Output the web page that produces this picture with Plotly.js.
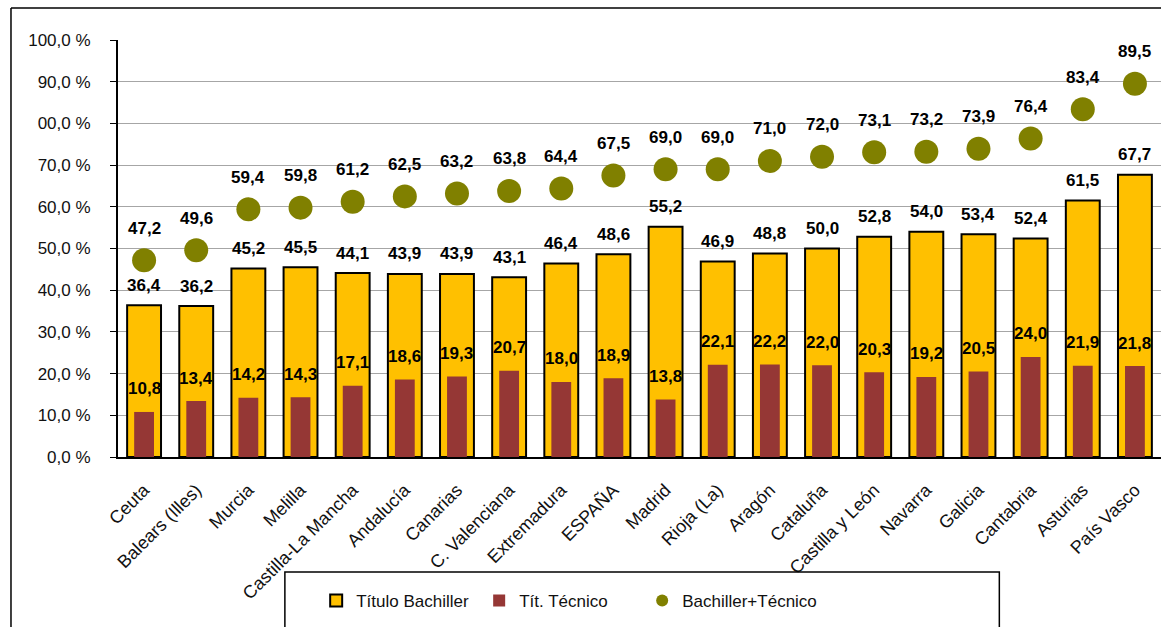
<!DOCTYPE html>
<html>
<head>
<meta charset="utf-8">
<script src="https://cdn.plot.ly/plotly-3.0.1.min.js"></script>
<style>html,body{margin:0;padding:0;background:#fff;}#chart{width:1161px;height:627px;}</style>
</head>
<body>
<div id="chart"></div>
<script>
const categories = ["Ceuta","Balears (Illes)","Murcia","Melilla","Castilla-La Mancha","Andalucía","Canarias","C. Valenciana","Extremadura","ESPAÑA","Madrid","Rioja (La)","Aragón","Cataluña","Castilla y León","Navarra","Galicia","Cantabria","Asturias","País Vasco"];
const tituloBachiller = [36.4,36.2,45.2,45.5,44.1,43.9,43.9,43.1,46.4,48.6,55.2,46.9,48.8,50.0,52.8,54.0,53.4,52.4,61.5,67.7];
const titTecnico = [10.8,13.4,14.2,14.3,17.1,18.6,19.3,20.7,18.0,18.9,13.8,22.1,22.2,22.0,20.3,19.2,20.5,24.0,21.9,21.8];
const bachillerTecnico = [47.2,49.6,59.4,59.8,61.2,62.5,63.2,63.8,64.4,67.5,69.0,69.0,71.0,72.0,73.1,73.2,73.9,76.4,83.4,89.5];
const yTickVals = [0,10,20,30,40,50,60,70,80,90,100];
const yTickText = ["0,0 %","10,0 %","20,0 %","30,0 %","40,0 %","50,0 %","60,0 %","70,0 %","00,0 %","90,0 %","100,0 %"];

const fmt = v => v.toFixed(1).replace('.', ',');
const FONT = "Liberation Sans, Arial, sans-serif";

const traces = [
  {type:'bar', name:'Título Bachiller', x:categories, y:tituloBachiller, width:0.65,
   marker:{color:'#FFC000', line:{color:'#000', width:2}}},
  {type:'bar', name:'Tít. Técnico', x:categories, y:titTecnico, width:0.38,
   marker:{color:'#953735', line:{width:0}}},
  {type:'scatter', mode:'markers', name:'Bachiller+Técnico', x:categories, y:bachillerTecnico,
   marker:{color:'#808000', size:24}},
  // invisible spacer entry so the last legend label is not clipped
  {type:'scatter', mode:'lines', name:' ', x:[categories[0]], y:[null],
   line:{width:0, color:'rgba(0,0,0,0)'}, showlegend:true}
];

const annotations = [];
const addLabels = (vals, shift) => vals.forEach((v,i) => annotations.push({
  x:categories[i], y:v, xref:'x', yref:'y', text:fmt(v), showarrow:false,
  yanchor:'middle', yshift:shift, font:{family:FONT, size:17, color:'#000', weight:'bold'}
}));
addLabels(tituloBachiller, 20);
addLabels(titTecnico, 23);
addLabels(bachillerTecnico, 32);

const layout = {
  width:1161, height:627,
  margin:{l:118, r:0, t:40, b:170},
  paper_bgcolor:'#fff', plot_bgcolor:'#fff',
  barmode:'overlay',
  showlegend:true,
  font:{family:FONT, color:'#000'},
  xaxis:{type:'category', range:[-0.5,19.5], tickangle:-45, showgrid:false,
    showline:true, linecolor:'#000', linewidth:1.5, ticks:'', ticklabelstandoff:14,
    tickfont:{family:FONT, size:18, color:'#111'}, fixedrange:true},
  yaxis:{range:[0,100], tickvals:yTickVals, ticktext:yTickText, showgrid:true,
    gridcolor:'#A6A6A6', gridwidth:1, showline:true, linecolor:'#000', linewidth:2,
    ticks:'outside', ticklen:6, tickcolor:'#000', tickwidth:1, ticklabelstandoff:16,
    tickfont:{family:FONT, size:17, color:'#111'}, zeroline:false, fixedrange:true},
  legend:{orientation:'h', x:0.19, xanchor:'left', y:-0.345, yanchor:'middle',
    bgcolor:'rgba(0,0,0,0)', borderwidth:0, itemsizing:'constant',
    entrywidth:118, entrywidthmode:'pixels',
    font:{family:FONT, size:17, color:'#111'}, traceorder:'normal'},
  annotations:annotations,
  shapes:[
    {type:'rect', xref:'paper', yref:'paper', x0:0.160, x1:0.845, y0:-0.276, y1:-0.5,
     line:{color:'#000', width:1.5}, fillcolor:'rgba(0,0,0,0)'},
    {type:'line', xref:'paper', yref:'paper', x0:-0.1026, x1:-0.1026, y0:-0.5, y1:1.0767,
     line:{color:'#000', width:1.5}},
    {type:'line', xref:'paper', yref:'paper', x0:-0.1026, x1:1.05, y0:1.0767, y1:1.0767,
     line:{color:'#000', width:1.5}}
  ],
  hovermode:false
};
Plotly.newPlot('chart', traces, layout, {staticPlot:true, displayModeBar:false});
</script>
</body>
</html>
